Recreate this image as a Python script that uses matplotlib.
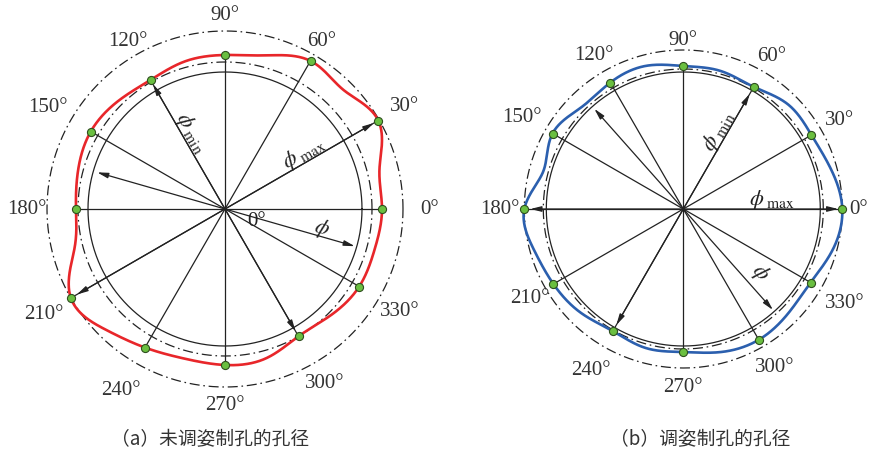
import numpy as np
import matplotlib
matplotlib.use("Agg")
import matplotlib.pyplot as plt

plt.rcParams['mathtext.fontset'] = 'stix'

# ---------------- data (radii in pixel units) ----------------
major_angles = [0, 30, 60, 90, 120, 150, 180, 210, 240, 270, 300, 330]
mid_angles = [15, 45, 75, 105, 135, 165, 195, 225, 255, 285, 315, 345]

# (a) un-adjusted hole
red_dot_r = [157, 177, 171, 154, 149, 155, 149, 178, 160, 156, 147, 155]
red_mid_r = [160, 168, 159, 153, 152, 152, 156, 170, 155, 155, 150, 155]
a_circles = {"solid": 137, "inner": 147, "outer": 178}
a_arrows = [  # (angle1, r1, angle2, r2)
    (30, 172, 210, 171),
    (120, 144, 300, 141),
    (-16, 135, 164, 133),
]

# (b) adjusted hole
blue_dot_r = [159, 148, 141, 143, 146, 151, 159, 150, 141, 143, 151, 147]
blue_mid_r = [153, 148, 143, 148, 144, 145, 155, 146, 144, 148, 148, 155]
b_circles = {"solid": 137, "inner": 140, "outer": 159}
b_arrows = [
    (0, 155, 180, 153),
    (60, 133, 240, 134),
    (-48.4, 135, 131.6, 134),
]

tick_labels = ["0°", "30°", "60°", "90°", "120°", "150°", "180°", "210°",
               "240°", "270°", "300°", "330°"]
captions = ["（a）未调姿制孔的孔径", "（b）调姿制孔的孔径"]

# ---------------- helpers ----------------
W, H = 870, 456
fig = plt.figure(figsize=(W / 100, H / 100), dpi=100)


def make_ax(cx, cy, R=230):
    ax = fig.add_axes([(cx - R) / W, (H - cy - R) / H, 2 * R / W, 2 * R / H],
                      projection='polar')
    ax.set_ylim(0, R)
    ax.axis('off')
    return ax


def periodic_spline(theta_deg, r, n=1440):
    th = np.radians(np.asarray(theta_deg, float))
    order = np.argsort(th)
    th = th[order]
    y = np.asarray(r, float)[order]
    N = len(th)
    h = 2 * np.pi / N
    A = np.zeros((N, N))
    b = np.zeros(N)
    for i in range(N):
        A[i, (i - 1) % N] = 1
        A[i, i] = 4
        A[i, (i + 1) % N] = 1
        b[i] = 6 / h ** 2 * (y[(i + 1) % N] - 2 * y[i] + y[(i - 1) % N])
    M = np.linalg.solve(A, b)
    t = np.linspace(0, 2 * np.pi, n, endpoint=False)
    idx = np.floor(t / h).astype(int) % N
    t0 = th[idx]
    s = t - t0
    j = (idx + 1) % N
    yi, yj, Mi, Mj = y[idx], y[j], M[idx], M[j]
    val = (Mi * (h - s) ** 3 / (6 * h) + Mj * s ** 3 / (6 * h)
           + (yi / h - Mi * h / 6) * (h - s) + (yj / h - Mj * h / 6) * s)
    t = np.append(t, t[0])
    val = np.append(val, val[0])
    return t, val


def draw_panel(ax, dot_r, mid_r, circles, arrows, color, label_r, label_specs):
    t = np.linspace(0, 2 * np.pi, 721)
    ax.plot(t, np.full_like(t, circles["solid"]), color='#222222', lw=0.9, zorder=2)
    ax.plot(t, np.full_like(t, circles["inner"]), color='#222222', lw=0.9,
            ls=(0, (8, 3, 1.3, 3)), zorder=2)
    ax.plot(t, np.full_like(t, circles["outer"]), color='#222222', lw=0.9,
            ls=(0, (8, 3, 1.3, 3)), zorder=2)
    # spokes to measured points
    for a, r in zip(major_angles, dot_r):
        ax.plot([np.radians(a), np.radians(a)], [0, r], color='#222222', lw=0.9, zorder=3)
    # diameter arrows
    for a1, r1, a2, r2 in arrows:
        ax.annotate('', xy=(np.radians(a1), r1), xytext=(np.radians(a2), r2),
                    arrowprops=dict(arrowstyle='<|-|>,head_length=0.65,head_width=0.16',
                                    color='#222222', lw=0.9, shrinkA=0, shrinkB=0),
                    zorder=4, annotation_clip=False)
    # profile
    tt, rr = periodic_spline(major_angles + mid_angles, list(dot_r) + list(mid_r))
    ax.plot(tt, rr, color=color, lw=1.9, zorder=5, clip_on=False)
    # points
    ax.scatter(np.radians(major_angles), dot_r, s=34, facecolor='#6abf40',
               edgecolor='#2f4f1f', linewidth=0.8, zorder=6, clip_on=False)
    # angle labels
    for a, lab, lr in zip(major_angles, tick_labels, label_r):
        ax.text(np.radians(a), lr, lab, ha='center', va='center', fontsize=15,
                family='Liberation Serif', color='#333333', clip_on=False)
    for ang, r, txt, rot, fs in label_specs:
        ax.text(np.radians(ang), r, txt, ha='center', va='center', fontsize=fs,
                rotation=rot, rotation_mode='anchor', color='#222222', clip_on=False)


axa = make_ax(225, 210)
label_r_a = [205, 207, 194, 195, 194, 205, 198, 209, 209, 196, 200, 202]
specs_a = [
    (-20.3, 34, "0°", 0, 15),
    (-10.7, 98, r"$\phi$", -16, 16),
    (35.9, 97, r"$\phi_{\ \mathrm{max}}$", 30, 16),
    (113.5, 84, r"$\phi_{\ \mathrm{min}}$", -60, 16),
]
draw_panel(axa, red_dot_r, red_mid_r, a_circles, a_arrows, '#e8262a', label_r_a, specs_a)
axa.texts[-4].set_family('Liberation Serif')

axb = make_ax(683.3, 210)
label_r_b = [175, 180, 177, 170, 178, 186, 183, 177, 185, 177, 182, 186]
specs_b = [
    (6.5, 89, r"$\phi_{\ \mathrm{max}}$", 0, 16),
    (65.9, 86, r"$\phi_{\ \mathrm{min}}$", 60, 16),
    (-39.5, 99, r"$\phi$", -48, 16),
]
draw_panel(axb, blue_dot_r, blue_mid_r, b_circles, b_arrows, '#2b5fae', label_r_b, specs_b)

for x, cap in zip([210, 700], captions):
    fig.text(x / W, 1 - 440 / H, cap, ha='center', va='center', fontsize=13.5,
             family=['Noto Sans CJK SC', 'DejaVu Sans'], color='#333333')

fig.savefig("out.png", dpi=100)
